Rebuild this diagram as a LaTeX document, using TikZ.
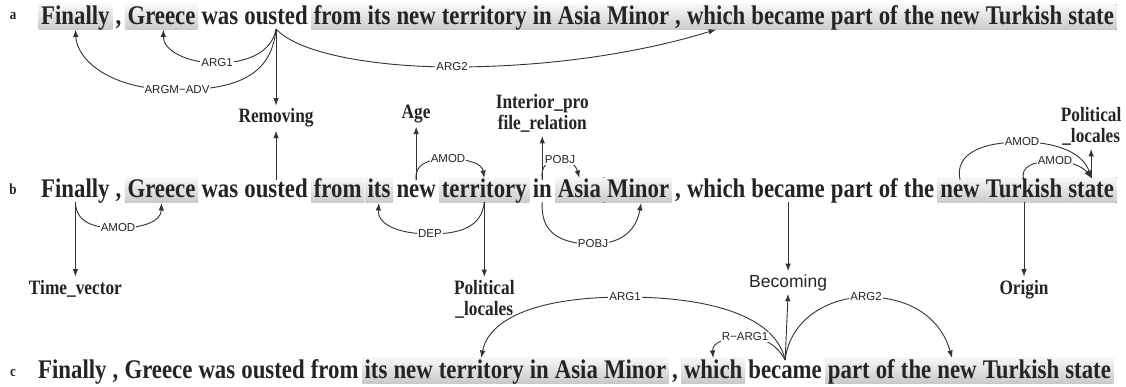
\documentclass[tikz,border=0pt]{standalone}
\usepackage{fontspec}
\usepackage{graphicx}
\setmainfont{Liberation Serif}
\newfontfamily\lblfont{Liberation Sans}
\usetikzlibrary{arrows.meta,positioning,calc}
\pgfdeclarelayer{background}
\pgfsetlayers{background,main}
\definecolor{ink}{HTML}{242424}
\definecolor{wire}{HTML}{333333}
% tall serif lettering
\newcommand\tallbox[1]{\scalebox{1}[1.18]{#1}}
% one line of the sentence: #1 name prefix, #2 left x, #3 baseline y
\newcommand\sentence[3]{%
  \foreach \w [count=\i] in {Finally,{,},Greece,was,ousted,from,its,new,territory,in,Asia,Minor,{,},which,became,part,of,the,new,Turkish,state}{%
    \ifnum\i=1
      \node[word,anchor=base west] (#1\i) at (#2,#3) {\tallbox{\w}};
    \else
      \pgfmathtruncatemacro\prev{\i-1}%
      \node[word,base right=5.7pt of #1\prev] (#1\i) {\tallbox{\w}};
    \fi
  }%
}
% grey band behind the words #1 .. #2
\newcommand\hilite[2]{\fill[hl] ([xshift=-2.5pt,yshift=20.5pt]#1.base west) rectangle ([xshift=2.5pt,yshift=-5pt]#2.base east);}

\begin{document}
\begin{tikzpicture}[x=1pt,y=-1pt,
  word/.style={inner sep=0pt,text=ink,font=\bfseries\fontsize{22.8}{26}\selectfont},
  frame/.style={inner xsep=0pt,inner ysep=3pt,text=ink,align=center,font=\bfseries\fontsize{17.3}{21.5}\selectfont},
  rowtag/.style={inner sep=0pt,text=ink,font=\bfseries\fontsize{13}{15}\selectfont},
  lbl/.style={fill=white,inner sep=1pt,text=ink,font=\lblfont\fontsize{11.5}{13}\selectfont},
  arc/.style={draw=wire,line width=0.9pt,-{Latex[length=7.5pt,width=5.5pt]}},
  hl/.style={top color=black!3,bottom color=black!21}]
\useasboundingbox (0,0) rectangle (1126,387);

% row tags
\node[rowtag,anchor=base] (tagA) at (13,20) {\tallbox{a}};
\node[rowtag,anchor=base] (tagB) at (13,195) {\tallbox{b}};
\node[rowtag,anchor=base] (tagC) at (13,376) {\tallbox{c}};

% the three renderings of the sentence
\sentence{a}{41}{25}
\sentence{b}{41}{198}
\sentence{c}{38}{378}

\begin{pgfonlayer}{background}
  \fill[white] (0,0) rectangle (1126,387);
  \hilite{a1}{a1} \hilite{a3}{a3} \hilite{a6}{a21}
  \hilite{b3}{b3} \hilite{b6}{b6} \hilite{b7}{b7} \hilite{b9}{b9}
  \hilite{b11}{b11} \hilite{b12}{b12} \hilite{b19}{b19} \hilite{b20}{b20} \hilite{b21}{b21}
  \hilite{c7}{c12} \hilite{c14}{c14} \hilite{c16}{c21}
\end{pgfonlayer}

% frame labels
\node[frame,anchor=base] (rem) at (a5.base |- 0,123) {\tallbox{Removing}};
\node[frame,anchor=base] (age) at (b8.base |- 0,119) {\tallbox{Age}};
\node[frame,anchor=north] (ipr) at (b10.base |- 0,91) {\tallbox{Interior\_pro}\\\tallbox{file\_relation}};
\node[frame,anchor=north] (plA) at (b21.base |- 0,104) {\tallbox{Political}\\\tallbox{\_locales}};
\node[frame,anchor=base] (tvec) at (b1.base |- 0,294) {\tallbox{Time\_vector}};
\node[frame,anchor=north] (plB) at (b9.base |- 0,277) {\tallbox{Political}\\\tallbox{\_locales}};
\node[frame,anchor=base] (orig) at (b20.base |- 0,294) {\tallbox{Origin}};
\node[inner xsep=0pt,inner ysep=3pt,text=ink,font=\lblfont\fontsize{17.5}{20}\selectfont,anchor=base] (bec) at (b15.base |- 0,287) {Becoming};

% row a: arguments of "ousted"
\draw[arc] ([yshift=-4pt]a5.base) .. controls (272,52) and (248,63) .. (217,63) node[lbl] (aArgA) {ARG1}
  .. controls (186,63) and (163,50) .. ([xshift=2pt,yshift=-4.5pt]a3.base);
\draw[arc] ([yshift=-4pt]a5.base) .. controls (272,70) and (245,90) .. (177,90) node[lbl] (aArgM) {ARGM−ADV}
  .. controls (110,90) and (77,60) .. ([yshift=-4.5pt]a1.base);
\draw[arc] ([yshift=-4pt]a5.base) .. controls (300,55) and (380,67) .. (452,67) node[lbl] (aArgB) {ARG2}
  .. controls (560,67) and (650,50) .. ([yshift=-4.5pt]a14.base);
\draw[arc] ([yshift=-4pt]a5.base) -- (rem.north);

% row b: frames and dependencies
\draw[arc] ([yshift=18pt]b5.base) -- (rem.south);
\draw[arc] ([yshift=-4pt]b1.base) -- (tvec.north);
\draw[arc] ([yshift=-4pt]b1.base) .. controls (76,224) and (96,228) .. (118,228) node[lbl] (bAmodA) {AMOD}
  .. controls (142,228) and (161,222) .. ([yshift=-5pt]b3.base);
\draw[arc] ([yshift=-4pt]b9.base) .. controls (482,226) and (462,234) .. (430,234) node[lbl] (bDep) {DEP}
  .. controls (398,234) and (377,224) .. ([yshift=-5pt]b7.base);
\draw[arc] ([yshift=18pt]b8.base) .. controls (414,164) and (428,159) .. (448,159) node[lbl] (bAmodB) {AMOD}
  .. controls (470,159) and (482,164) .. ([yshift=20pt]b9.base);
\draw[arc] ([yshift=18pt]b8.base) -- (age.south);
\draw[arc] ([yshift=-4pt]b9.base) -- (plB.north);
\draw[arc] ([yshift=18pt]b10.base) -- (ipr.south);
\draw[arc] ([yshift=18pt]b10.base) .. controls (540,166) and (548,160) .. (560,160) node[lbl] (bPobjA) {POBJ}
  .. controls (572,160) and (576,166) .. ([yshift=20pt]b11.base);
\draw[arc] ([yshift=-4pt]b10.base) .. controls (540,234) and (562,244) .. (593,244) node[lbl] (bPobjB) {POBJ}
  .. controls (626,244) and (637,226) .. ([xshift=3pt,yshift=-5pt]b12.base);
\draw[arc] ([yshift=-4pt]b15.base) -- (bec.north);
\draw[arc] ([yshift=18pt]b19.base) .. controls (954,152) and (985,142) .. (1022,142) node[lbl] (bAmodC) {AMOD}
  .. controls (1060,142) and (1084,155) .. ([yshift=20pt]b21.base);
\draw[arc] ([yshift=18pt]b20.base) .. controls (1019,166) and (1035,161) .. (1055,161) node[lbl] (bAmodD) {AMOD}
  .. controls (1072,161) and (1084,168) .. ([yshift=20pt]b21.base);
\draw[arc] ([yshift=20pt]b21.base) -- (plA.south);
\draw[arc] ([yshift=-4pt]b20.base) -- (orig.north);

% row c: arguments of "became"
\draw[arc] ([yshift=18pt]c15.base) -- (bec.south);
\draw[arc] ([yshift=18pt]c15.base) .. controls (776,318) and (715,297) .. (625,297) node[lbl] (cArgA) {ARG1}
  .. controls (530,297) and (488,322) .. ([yshift=20pt]c9.base);
\draw[arc] ([yshift=18pt]c15.base) .. controls (778,346) and (765,337) .. (745,337) node[lbl] (cRArg) {R−ARG1}
  .. controls (725,337) and (712,343) .. ([yshift=20pt]c14.base);
\draw[arc] ([yshift=18pt]c15.base) .. controls (790,318) and (830,297) .. (866,297) node[lbl] (cArgB) {ARG2}
  .. controls (915,297) and (942,322) .. ([xshift=-5pt,yshift=20pt]c19.base);
\end{tikzpicture}
\end{document}
